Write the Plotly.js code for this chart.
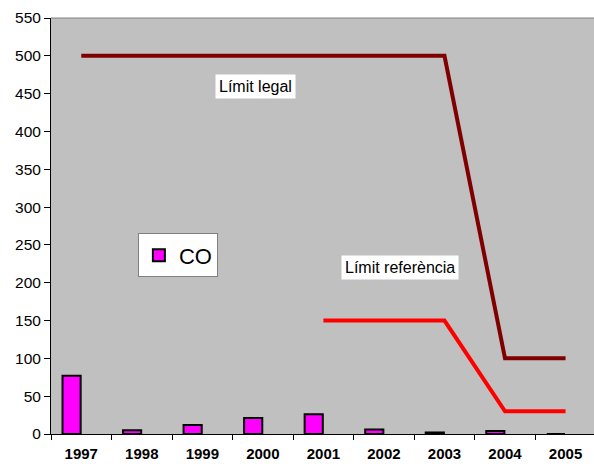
<!DOCTYPE html>
<html>
<head>
<meta charset="utf-8">
<script src="https://cdn.plot.ly/plotly-3.0.1.min.js"></script>
<style>html,body{margin:0;padding:0;background:#fff;}#chart{width:594px;height:464px;}</style>
</head>
<body>
<div id="chart"></div>
<script>
const years = ['1997','1998','1999','2000','2001','2002','2003','2004','2005'];
const coValues = [77, 5, 12, 21, 26, 6, 2, 4, 0];
const legalYears = ['1997','1998','1999','2000','2001','2002','2003','2004','2005'];
const legalValues = [500, 500, 500, 500, 500, 500, 500, 100, 100];
const refYears = ['2001','2002','2003','2004','2005'];
const refValues = [150, 150, 150, 30, 30];
const yTicks = [0,50,100,150,200,250,300,350,400,450,500,550];

const fontFam = 'Liberation Sans, Arial, sans-serif';

const traces = [
  {
    type: 'bar', x: years, y: coValues, name: 'CO',
    marker: {color: '#FF00FF', line: {color: '#000000', width: 2}},
    width: 0.3, offset: -0.31, showlegend: true
  },
  {
    type: 'scatter', mode: 'lines', x: legalYears, y: legalValues,
    line: {color: '#800000', width: 4}, showlegend: false, hoverinfo: 'skip'
  },
  {
    type: 'scatter', mode: 'lines', x: refYears, y: refValues,
    line: {color: '#FF0000', width: 4}, showlegend: false, hoverinfo: 'skip'
  }
];

const layout = {
  width: 594, height: 464,
  margin: {l: 51, r: 0, t: 18, b: 30},
  paper_bgcolor: '#FFFFFF',
  plot_bgcolor: '#C0C0C0',
  font: {family: fontFam, color: '#000'},
  showlegend: true,
  legend: {
    x: 0.16, y: 0.482, xanchor: 'left', yanchor: 'top',
    bgcolor: '#FFFFFF', bordercolor: '#808080', borderwidth: 1,
    font: {size: 22, family: fontFam, color: '#000'},
    itemwidth: 30, tracegroupgap: 0
  },
  xaxis: {
    type: 'category', range: [-0.5, 8.47],
    showline: true, linecolor: '#000', linewidth: 1,
    ticks: 'outside', ticklen: 5, tickcolor: '#000', tickson: 'boundaries',
    tickfont: {size: 15, family: fontFam, color: '#000', weight: 'bold'},
    ticklabelstandoff: 6,
    showgrid: false, zeroline: false, fixedrange: true
  },
  yaxis: {
    range: [0, 550], tickvals: yTicks, ticktext: yTicks.map(String),
    showline: true, linecolor: '#000', linewidth: 1,
    ticks: 'outside', ticklen: 6, tickcolor: '#000',
    tickfont: {size: 15.5, family: fontFam, color: '#000'},
    showgrid: false, zeroline: false, fixedrange: true
  },
  shapes: [
    {type: 'line', xref: 'paper', yref: 'paper', x0: 0, x1: 1, y0: 1, y1: 1,
     line: {color: '#808080', width: 1}}
  ],
  annotations: [
    {x: 2.87, y: 460, xref: 'x', yref: 'y', text: 'Límit legal', showarrow: false,
     bgcolor: '#FFFFFF', font: {size: 16, family: fontFam, color: '#000'}, borderpad: 3},
    {x: 5.26, y: 220, xref: 'x', yref: 'y', text: 'Límit referència', showarrow: false,
     bgcolor: '#FFFFFF', font: {size: 16, family: fontFam, color: '#000'}, borderpad: 3}
  ]
};

Plotly.newPlot('chart', traces, layout, {displayModeBar: false, staticPlot: true});
</script>
</body>
</html>
